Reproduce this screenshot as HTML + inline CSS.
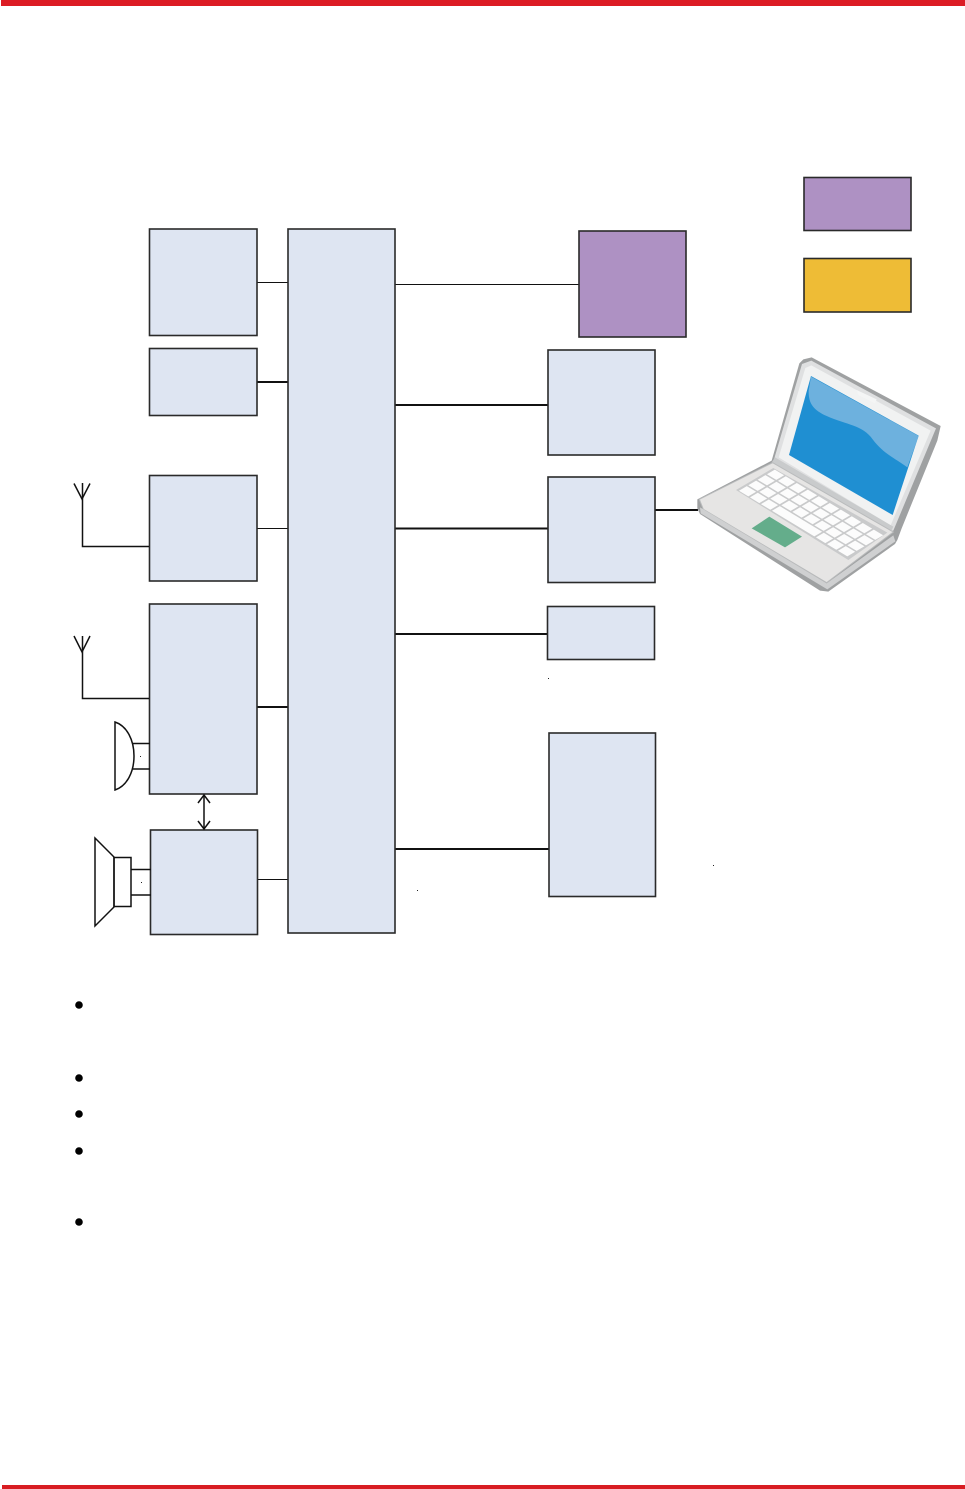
<!DOCTYPE html>
<html>
<head>
<meta charset="utf-8">
<style>
html,body{margin:0;padding:0;background:#fff;}
svg{display:block;}
</style>
</head>
<body>
<svg width="965" height="1489" viewBox="0 0 965 1489" xmlns="http://www.w3.org/2000/svg">
<rect width="965" height="1489" fill="#fff"/>
<rect x="1" y="0" width="964" height="6" fill="#dc1c24"/>
<rect x="2" y="1485" width="963" height="4" fill="#d81c22"/>

<g stroke="#111" fill="none" shape-rendering="crispEdges">
<path d="M257.500 282.500H288" stroke-width="1"/>
<path d="M257 382H288" stroke-width="2"/>
<path d="M257.500 528.500H288" stroke-width="1"/>
<path d="M257 707H288" stroke-width="2"/>
<path d="M257.500 879.500H288" stroke-width="1"/>
<path d="M395 284.500H579" stroke-width="1"/>
<path d="M395 405H548" stroke-width="2"/>
<path d="M395 528.500H548" stroke-width="2"/>
<path d="M395 634H548" stroke-width="2"/>
<path d="M395 849H549" stroke-width="2"/>
<path d="M655 510H698" stroke-width="2"/>
</g>

<g fill="#dee5f2" stroke="#2a2a2a" stroke-width="1.600">
<rect x="149.500" y="229" width="107.500" height="106.500"/>
<rect x="149.500" y="348.500" width="107.500" height="67"/>
<rect x="149.500" y="475.500" width="107.500" height="105.500"/>
<rect x="149.500" y="604" width="107.500" height="190"/>
<rect x="150.500" y="830" width="107" height="104.500"/>
<rect x="288" y="229" width="107" height="704"/>
<rect x="548" y="350" width="107" height="105"/>
<rect x="548" y="477" width="107" height="105.500"/>
<rect x="547.500" y="606.500" width="107" height="53"/>
<rect x="549" y="733" width="106.500" height="163.500"/>
</g>
<rect x="579" y="231" width="107" height="106" fill="#ae91c3" stroke="#2a2a2a" stroke-width="1.600"/>
<rect x="804" y="177.500" width="107" height="53" fill="#ae91c3" stroke="#2a2a2a" stroke-width="1.600"/>
<rect x="804" y="258.500" width="107" height="53.500" fill="#eebc36" stroke="#2a2a2a" stroke-width="1.600"/>

<g fill="none" stroke="#111" stroke-width="1.500">
<path d="M149 546.500H82.500V483"/>
<path d="M74 483.500L82 499L90 483.500"/>
<path d="M149 698.500H82.500V636"/>
<path d="M74 636L82 652L90 636"/>
<path d="M115 722C127 726 134 740 134 756C134 772 127 786 115 790Z"/>
<path d="M133 743.500H150M133 769H150"/>
<path d="M95 838L114 857V907L95 926Z"/>
<path d="M114 857.500H131V906.500H114Z"/>
<path d="M131 869.500H151M131 895H151"/>
<path d="M204 796V829"/>
<path d="M198 803L204 795L210 803"/>
<path d="M198 821L204 829L210 821"/>
</g>
<g fill="#222">
<rect x="140" y="756" width="1" height="1"/>
<rect x="141" y="882" width="1" height="1"/>
<rect x="417" y="890" width="1" height="1"/>
<rect x="548" y="678" width="1" height="1"/>
<rect x="713" y="865" width="1" height="1"/>
<circle cx="79" cy="1005" r="3.800" fill="#000"/>
<circle cx="79" cy="1078" r="3.800" fill="#000"/>
<circle cx="79" cy="1114" r="3.800" fill="#000"/>
<circle cx="79" cy="1151" r="3.800" fill="#000"/>
<circle cx="79" cy="1222" r="3.800" fill="#000"/>
</g>

<g transform="translate(680 340) scale(0.33333)">
<!-- outer silhouette / thickness -->
<path d="M52 478L275 362L358 70L370 58L395 52L782 258L772 302L665 565L652 600L645 612L445 755L420 752L60 522L52 505Z" fill="#9fa1a2"/>
<!-- lid face -->
<path d="M282 358L366 72L394 62L768 265L640 572L622 575Z" fill="#dfe0e1"/>
<path d="M296 352L376 84L394 76L752 272L632 556Z" fill="#f1f2f2"/>
<!-- screen -->
<path d="M393 108L716 287L638 525L327 345Z" fill="#1f8fd2"/>
<path d="M393 110L716 288L682 382C640 352 610 340 578 298C548 255 500 255 440 228C400 210 385 190 386 152Z" fill="#6db1de"/>
<path d="M530 150L590 178L585 190L535 165Z" fill="#f4f5f5"/>
<!-- hinge -->
<path d="M285 352L640 560L632 578L272 372Z" fill="#c9cbcc"/>
<!-- base top -->
<path d="M58 478L278 368L640 576L440 728L70 508Z" fill="#e6e5e4" stroke="#b9bbbc" stroke-width="3"/>
<path d="M60 502L440 730L640 586L646 604L442 748L62 520Z" fill="#cfd0d1"/>
<path d="M168 450L280 384L622 578L505 660Z" fill="#c9cacb"/>
<path d="M215 565L268 530L366 590L315 622Z" fill="#64ad8b"/>
<!-- keys -->
<g transform="matrix(33 20 28 -16.500 172 452)" fill="#fcfcfc">
<rect x="0.080" y="0.080" width="0.850" height="0.840"/>
<rect x="1.080" y="0.080" width="0.850" height="0.840"/>
<rect x="2.080" y="0.080" width="0.850" height="0.840"/>
<rect x="3.080" y="0.080" width="3.850" height="0.840"/>
<rect x="7.080" y="0.080" width="0.850" height="0.840"/>
<rect x="8.080" y="0.080" width="0.850" height="0.840"/>
<rect x="9.080" y="0.080" width="0.850" height="0.840"/>
<rect x="0.080" y="1.080" width="0.850" height="0.840"/>
<rect x="1.080" y="1.080" width="0.850" height="0.840"/>
<rect x="2.080" y="1.080" width="0.850" height="0.840"/>
<rect x="3.080" y="1.080" width="0.850" height="0.840"/>
<rect x="4.080" y="1.080" width="0.850" height="0.840"/>
<rect x="5.080" y="1.080" width="0.850" height="0.840"/>
<rect x="6.080" y="1.080" width="0.850" height="0.840"/>
<rect x="7.080" y="1.080" width="0.850" height="0.840"/>
<rect x="8.080" y="1.080" width="0.850" height="0.840"/>
<rect x="9.080" y="1.080" width="0.850" height="0.840"/>
<rect x="0.080" y="2.080" width="0.850" height="0.840"/>
<rect x="1.080" y="2.080" width="0.850" height="0.840"/>
<rect x="2.080" y="2.080" width="0.850" height="0.840"/>
<rect x="3.080" y="2.080" width="0.850" height="0.840"/>
<rect x="4.080" y="2.080" width="0.850" height="0.840"/>
<rect x="5.080" y="2.080" width="0.850" height="0.840"/>
<rect x="6.080" y="2.080" width="0.850" height="0.840"/>
<rect x="7.080" y="2.080" width="0.850" height="0.840"/>
<rect x="8.080" y="2.080" width="0.850" height="0.840"/>
<rect x="9.080" y="2.080" width="0.850" height="0.840"/>
<rect x="0.080" y="3.080" width="0.850" height="0.840"/>
<rect x="1.080" y="3.080" width="0.850" height="0.840"/>
<rect x="2.080" y="3.080" width="0.850" height="0.840"/>
<rect x="3.080" y="3.080" width="0.850" height="0.840"/>
<rect x="4.080" y="3.080" width="0.850" height="0.840"/>
<rect x="5.080" y="3.080" width="0.850" height="0.840"/>
<rect x="6.080" y="3.080" width="0.850" height="0.840"/>
<rect x="7.080" y="3.080" width="0.850" height="0.840"/>
<rect x="8.080" y="3.080" width="0.850" height="0.840"/>
<rect x="9.080" y="3.080" width="0.850" height="0.840"/>
</g>
</g>
</svg>
</body>
</html>
